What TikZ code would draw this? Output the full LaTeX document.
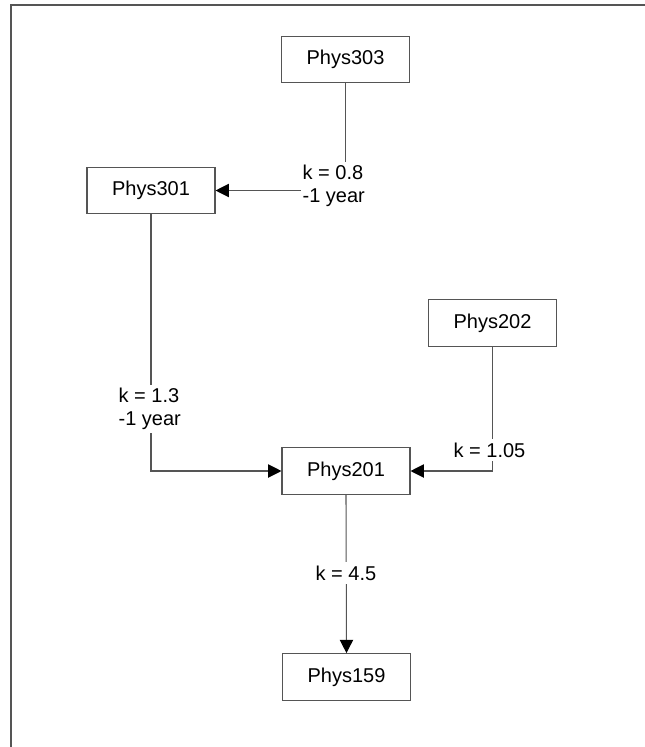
\documentclass[tikz,border=0pt]{standalone}
\usepackage{fontspec}
\setmainfont{Liberation Sans}
\usetikzlibrary{arrows.meta}
\definecolor{linegray}{HTML}{555555}
\tikzset{
  course/.style={draw=linegray, line width=0.8pt, fill=white, minimum width=96pt, minimum height=35pt, inner sep=0pt, font=\fontsize{15}{17.5}\selectfont},
  conn/.style={draw=linegray, line width=0.8pt},
  arr/.style={conn, -{Triangle[length=10pt,width=10pt,color=black]}},
  klabel/.style={fill=white, align=left, inner xsep=1pt, inner ysep=2.5pt, anchor=west, font=\fontsize{15}{17.5}\selectfont}
}
\begin{document}
\begin{tikzpicture}[x=0.75pt,y=-0.75pt]
\useasboundingbox (0,0) rectangle (645,747);
\draw[draw=linegray, line width=1.5pt] (645,5) -- (11,5) -- (11,747);

\node[course] (p303) at (345.5,59.5) {Phys303};
\node[course] (p301) at (151,190.5) {Phys301};
\node[course] (p202) at (492.5,323) {Phys202};
\node[course] (p201) at (346,471) {Phys201};
\node[course] (p159) at (346.5,677) {Phys159};

\draw[arr] (p303.south) |- (p301.east);
\draw[arr] (p301.south) |- (p201.west);
\draw[arr] (p202.south) |- (p201.east);
\draw[arr] (p201.south) -- (p159.north);

\node[klabel] (l1) at (301,186) {k = 0.8\\-1 year};
\node[klabel] (l2) at (117,409) {k = 1.3\\-1 year};
\node[klabel] (l3) at (452,450) {k = 1.05};
\node[klabel] (l4) at (314,573) {k = 4.5};
\end{tikzpicture}
\end{document}
